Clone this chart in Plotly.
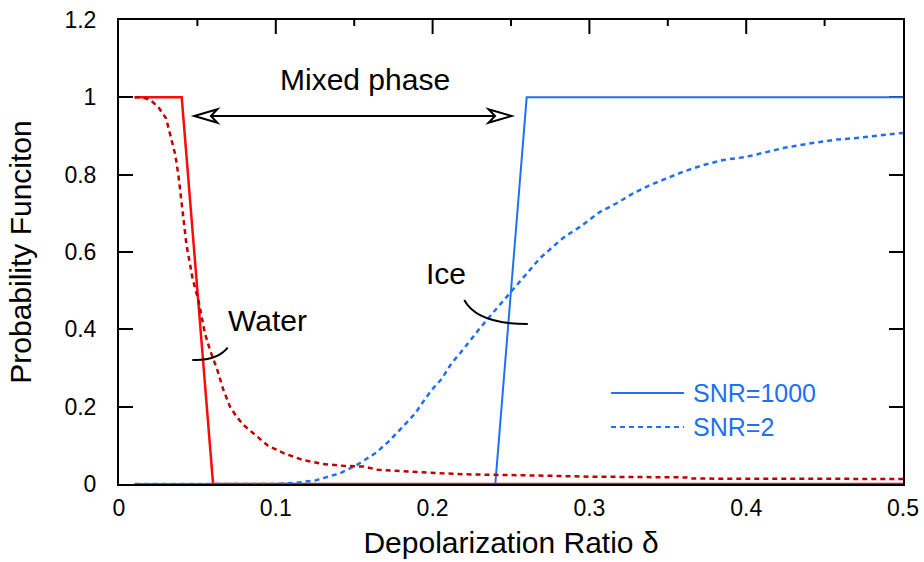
import plotly.graph_objects as go

# ---------------- data ----------------
water_sol_x = [0.01, 0.04, 0.06, 0.5]
water_sol_y = [1, 1, 0, 0]

ice_sol_x = [0.01, 0.24, 0.26, 0.5]
ice_sol_y = [0, 0, 1, 1]

water_snr2_x = [0.01, 0.015, 0.02, 0.025, 0.03, 0.033, 0.036, 0.038, 0.040, 0.043,
                0.047, 0.0506, 0.0548, 0.058, 0.0627, 0.0666, 0.0708, 0.075, 0.0793,
                0.0857, 0.095, 0.106, 0.1175, 0.130, 0.143, 0.156, 0.165, 0.185,
                0.22, 0.265, 0.30, 0.362, 0.364, 0.5]
water_snr2_y = [1, 1, 0.993, 0.975, 0.946, 0.90, 0.85, 0.795, 0.73, 0.62,
                0.53, 0.476, 0.39, 0.347, 0.295, 0.243, 0.20, 0.174, 0.153,
                0.131, 0.099, 0.078, 0.062, 0.052, 0.047, 0.045, 0.037, 0.032,
                0.025, 0.022, 0.019, 0.017, 0.014, 0.013]

ice_snr2_x = [0.01, 0.10, 0.113, 0.126, 0.141, 0.1516, 0.164, 0.172, 0.180, 0.189,
              0.194, 0.1994, 0.206, 0.212, 0.2175, 0.225, 0.231, 0.240, 0.250, 0.258,
              0.2685, 0.278, 0.2844, 0.294, 0.300, 0.3068, 0.3174, 0.328, 0.3386, 0.349,
              0.360, 0.3727, 0.3854, 0.400, 0.413, 0.425, 0.441, 0.458, 0.468, 0.483,
              0.497, 0.5]
ice_snr2_y = [0, 0, 0.003, 0.010, 0.028, 0.049, 0.081, 0.11, 0.144, 0.183,
              0.213, 0.243, 0.273, 0.312, 0.338, 0.377, 0.407, 0.450, 0.497, 0.536,
              0.584, 0.618, 0.640, 0.665, 0.683, 0.704, 0.726, 0.752, 0.773, 0.790,
              0.808, 0.825, 0.838, 0.846, 0.859, 0.870, 0.881, 0.891, 0.894, 0.900,
              0.907, 0.908]

legend_labels = ["SNR=1000", "SNR=2"]
x_ticks = [0, 0.1, 0.2, 0.3, 0.4, 0.5]
x_minor_ticks = [0.05, 0.15, 0.25, 0.35, 0.45]
y_ticks = [0, 0.2, 0.4, 0.6, 0.8, 1, 1.2]

# ---------------- styles ----------------
RED = "#ff0a0a"
DARKRED = "#c00000"
BLUE = "#2070f0"
FONT = "Liberation Sans, Arial, Helvetica, sans-serif"
DASH = "5px,4px"

fig = go.Figure()
fig.add_trace(go.Scatter(x=ice_sol_x, y=ice_sol_y, mode="lines",
                         line=dict(color=BLUE, width=2), showlegend=False))
fig.add_trace(go.Scatter(x=water_sol_x, y=water_sol_y, mode="lines",
                         line=dict(color=RED, width=2.5), showlegend=False))
fig.add_trace(go.Scatter(x=ice_snr2_x, y=ice_snr2_y, mode="lines",
                         line=dict(color=BLUE, width=2.5, dash=DASH), showlegend=False))
fig.add_trace(go.Scatter(x=water_snr2_x, y=water_snr2_y, mode="lines",
                         line=dict(color=DARKRED, width=2.5, dash=DASH), showlegend=False))

axis_common = dict(showgrid=False, zeroline=False, linecolor="black", linewidth=2,
                   tickcolor="black", tickwidth=2)

fig.update_layout(
    width=924, height=562,
    margin=dict(l=119, r=21, t=20, b=78, autoexpand=False),
    paper_bgcolor="white", plot_bgcolor="white",
    font=dict(family=FONT, color="black", size=23),
    xaxis=dict(range=[0, 0.5], tickvals=x_ticks, ticktext=[f"{v:g}" for v in x_ticks],
               showline=True, mirror=True, ticks="", ticklabelstandoff=2,
               layer="below traces", tickfont=dict(size=23),
               title=dict(text="Depolarization Ratio δ", font=dict(size=30), standoff=12),
               **axis_common),
    yaxis=dict(range=[0, 1.2], tickvals=y_ticks, ticktext=[f"{v:g}" for v in y_ticks],
               showline=True, mirror="ticks", ticks="inside", ticklen=14,
               ticklabelstandoff=16, tickfont=dict(size=23), layer="below traces",
               title=dict(text="Probability Funciton", font=dict(size=30), standoff=24),
               **axis_common),
)

# top-edge ticks (long at 0.1 steps, short at the half steps), placed on the x scale
for tv in x_ticks[1:-1]:
    fig.add_shape(type="line", xref="x", yref="paper", ysizemode="pixel", yanchor=1,
                  x0=tv, x1=tv, y0=0, y1=-14, line=dict(color="black", width=2))
for tv in x_minor_ticks:
    fig.add_shape(type="line", xref="x", yref="paper", ysizemode="pixel", yanchor=1,
                  x0=tv, x1=tv, y0=0, y1=-6, line=dict(color="black", width=2))

# text annotations
fig.add_annotation(x=0.1569, y=1.0456, text="Mixed phase", showarrow=False,
                   font=dict(size=30), xref="x", yref="y")
fig.add_annotation(x=0.0947, y=0.424, text="Water", showarrow=False,
                   font=dict(size=30), xref="x", yref="y")
fig.add_annotation(x=0.2085, y=0.5457, text="Ice", showarrow=False,
                   font=dict(size=30), xref="x", yref="y")

# leader arcs
fig.add_shape(type="path", xref="x", yref="y",
              path="M 0.04675 0.3207 Q 0.0625 0.318 0.06932 0.3525",
              line=dict(color="black", width=2))
fig.add_shape(type="path", xref="x", yref="y",
              path="M 0.2202 0.4758 Q 0.2283 0.4138 0.2607 0.4138",
              line=dict(color="black", width=2))

# double arrow (mixed phase)
ay = 0.9517
fig.add_shape(type="line", xref="x", yref="y", x0=0.055, x1=0.244, y0=ay, y1=ay,
              line=dict(color="black", width=2))
fig.add_shape(type="path", xref="x", yref="y",
              path=f"M 0.2504 {ay} L 0.2357 {ay+0.0175} L 0.2398 {ay} L 0.2357 {ay-0.0175} Z",
              fillcolor="white", line=dict(color="black", width=2))
fig.add_shape(type="path", xref="x", yref="y",
              path=f"M 0.0480 {ay} L 0.0627 {ay+0.0175} L 0.0586 {ay} L 0.0627 {ay-0.0175} Z",
              fillcolor="white", line=dict(color="black", width=2))

# manual legend
leg_y = [0.1961, 0.1228]
leg_dash = ["solid", DASH]
for lab, yy, dd in zip(legend_labels, leg_y, leg_dash):
    fig.add_shape(type="line", xref="paper", yref="paper", x0=0.6276, x1=0.7207,
                  y0=yy, y1=yy, line=dict(color=BLUE, width=2, dash=dd))
    fig.add_annotation(xref="paper", yref="paper", x=0.7290, y=yy, text=lab,
                       showarrow=False, xanchor="left", yanchor="middle",
                       font=dict(size=25, color=BLUE))

fig.write_html("out.html")
